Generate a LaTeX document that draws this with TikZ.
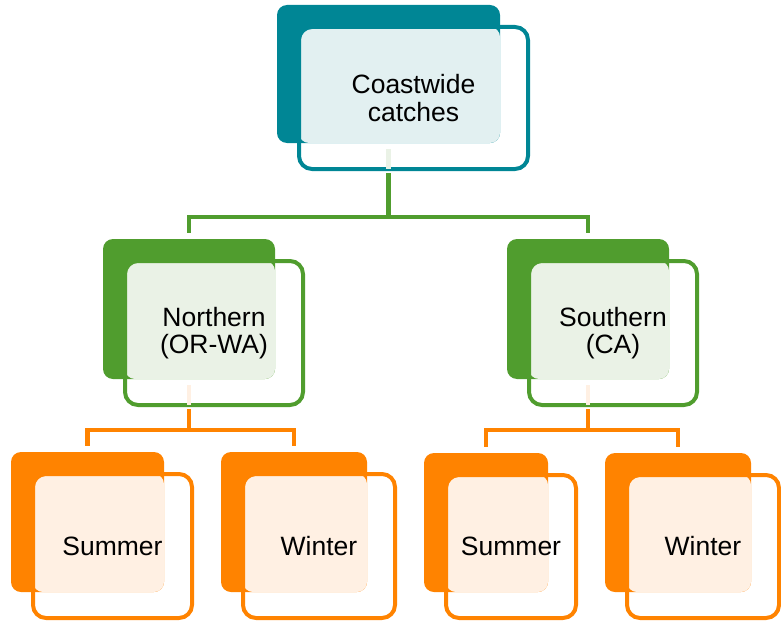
\documentclass[tikz,border=0pt]{standalone}
\usepackage{fontspec}
\setmainfont{Liberation Sans}
\usetikzlibrary{calc}
\definecolor{teal1}{RGB}{0,134,149}
\definecolor{teal2}{RGB}{226,240,241}
\definecolor{grn1}{RGB}{80,157,46}
\definecolor{grn2}{RGB}{234,242,230}
\definecolor{org1}{RGB}{255,131,0}
\definecolor{org2}{RGB}{255,240,227}
\tikzset{
  darkbox/.style={rounded corners=10pt, inner sep=0pt, draw=none},
  outbox/.style={rounded corners=13pt, inner sep=0pt, line width=4pt, font=\fontsize{26.5}{27.5}\selectfont, align=center, text=black},
  conn/.style={line width=4.5pt},
}
\newcommand\cbox[8]{%
  \node[darkbox, fill=#2, minimum width={#6-#4}, minimum height={#7-#5}] (#1) at ({(#4+#6)/2},{(#5+#7)/2}) {};
  \fill[#3, rounded corners=10pt] (#4+22,#5+22) rectangle (#6,#7);
  \node[outbox, draw=#2, minimum width={#6-#4+6}, minimum height={#7-#5+4}] (#1-o) at ({(#4+#6)/2+25},{(#5+#7)/2+24}) {#8};
}
\begin{document}
\begin{tikzpicture}[x=1pt,y=-1pt]
\useasboundingbox (0,0) rectangle (781,623);
% boxes
\cbox{top}{teal1}{teal2}{277}{5}{500}{143}{Coastwide\\catches}
\cbox{north}{grn1}{grn2}{103}{239}{275}{379}{Northern\\(OR-WA)}
\cbox{south}{grn1}{grn2}{507}{239}{669}{379}{Southern\\(CA)}
\cbox{nsum}{org1}{org2}{11}{452}{164}{592}{Summer}
\cbox{nwin}{org1}{org2}{221}{452}{367}{592}{Winter}
\cbox{ssum}{org1}{org2}{424}{453}{548}{592}{Summer}
\cbox{swin}{org1}{org2}{605}{453}{751}{592}{Winter}
% faint segments inside the outlines
\draw[conn, grn2] ($(top.south)+(0,6)$) -- ($(top.south |- top-o.south)+(0,-2)$);
\draw[conn, org2] ($(north.south)+(0,6)$) -- ($(north.south |- north-o.south)+(0,-2)$);
\draw[conn, org2] ($(south.south)+(0,6)$) -- ($(south.south |- south-o.south)+(0,-2)$);
% connectors
\draw[conn, grn1] ($(top.south |- top-o.south)+(0,2)$) -- ++(0,44) -| ($(north.north)+(0,-6)$);
\draw[conn, grn1] ($(top.south |- top-o.south)+(0,2)$) -- ++(0,44) -| ($(south.north)+(0,-6)$);
\draw[conn, org1] ($(north.south |- north-o.south)+(0,2)$) -- ++(0,21) -| ($(nsum.north)+(0,-6)$);
\draw[conn, org1] ($(north.south |- north-o.south)+(0,2)$) -- ++(0,21) -| ($(nwin.north)+(0,-6)$);
\draw[conn, org1] ($(south.south |- south-o.south)+(0,2)$) -- ++(0,21) -| ($(ssum.north)+(0,-6)$);
\draw[conn, org1] ($(south.south |- south-o.south)+(0,2)$) -- ++(0,21) -| ($(swin.north)+(0,-6)$);
\end{tikzpicture}
\end{document}
